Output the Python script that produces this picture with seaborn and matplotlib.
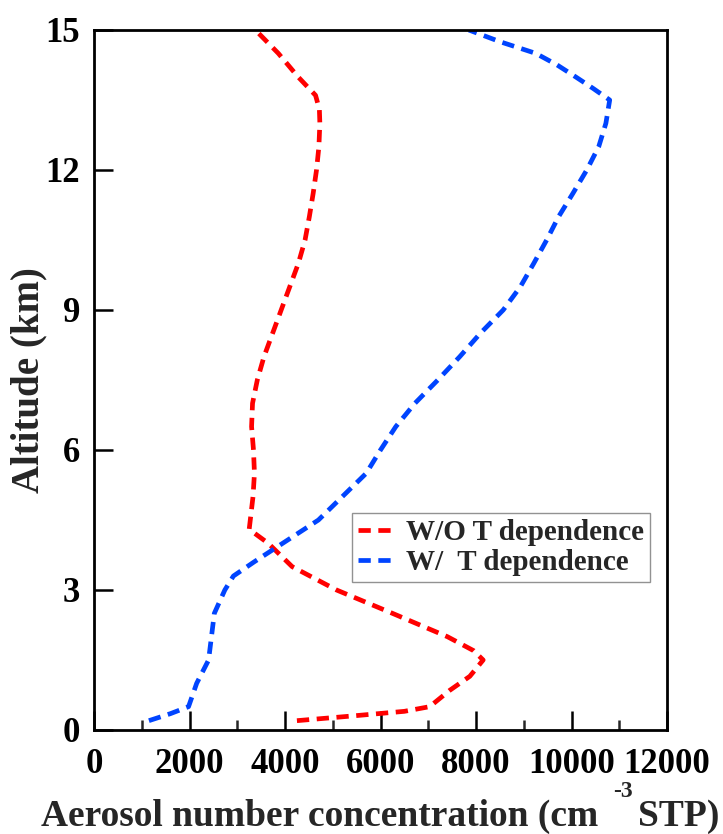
import numpy as np
import pandas as pd
import matplotlib
matplotlib.use("Agg")
import matplotlib.pyplot as plt
import seaborn as sns
from matplotlib.ticker import MultipleLocator

# ---- data ----
alt_wo = [0.2, 0.3, 0.4, 0.5, 0.85, 1.15, 1.5, 1.7, 2.0, 2.5, 3.0, 3.5, 4.0, 4.3,
          5.0, 5.5, 6.0, 6.5, 7.0, 7.5, 8.0, 8.5, 9.0, 9.5, 10.0, 10.5, 11.0,
          11.5, 12.0, 12.5, 13.0, 13.3, 13.6, 14.0, 14.5, 15.0]
conc_wo = [4250, 5400, 6500, 7030, 7450, 7870, 8150, 7950, 7400, 6250, 5080, 4150, 3650, 3250,
           3330, 3360, 3340, 3300, 3320, 3420, 3560, 3740, 3920, 4100, 4280, 4420, 4510,
           4590, 4660, 4710, 4730, 4720, 4640, 4270, 3860, 3380]

alt_w = [0.2, 0.35, 0.5, 1.0, 1.5, 2.0, 2.5, 3.0, 3.3, 3.6, 4.0, 4.5, 5.0, 5.5, 6.0,
         6.5, 7.0, 7.5, 8.0, 8.5, 9.0, 9.5, 10.0, 10.5, 11.0, 11.5, 12.0, 12.5, 13.0,
         13.5, 13.75, 14.0, 14.25, 14.5, 14.75, 15.0]
conc_w = [1150, 1600, 1980, 2150, 2400, 2460, 2520, 2740, 2920, 3350, 3950, 4700, 5200, 5700, 6000,
          6320, 6720, 7200, 7660, 8090, 8570, 8930, 9210, 9480, 9730, 10030, 10320, 10570, 10720,
          10800, 10450, 10080, 9700, 9250, 8500, 7850]

labels = ["W/O T dependence", "W/  T dependence"]
colors = ["#ff0000", "#0044ff"]

x_ticks = [0, 2000, 4000, 6000, 8000, 10000, 12000]
y_ticks = [0, 3, 6, 9, 12, 15]

df = pd.concat([
    pd.DataFrame({"conc": conc_wo, "alt": alt_wo, "case": labels[0]}),
    pd.DataFrame({"conc": conc_w, "alt": alt_w, "case": labels[1]}),
], ignore_index=True)

sns.set_style("ticks")
plt.rcParams["font.family"] = ["Liberation Serif", "DejaVu Serif"]
plt.rcParams["font.weight"] = "bold"

W, H = 723, 834
fig = plt.figure(figsize=(W / 100, H / 100), dpi=100)
ax = fig.add_axes([94 / W, (H - 730) / H, 573 / W, 700 / H])

for lab, col in zip(labels, colors):
    sub = df[df["case"] == lab]
    sns.lineplot(data=sub, x="conc", y="alt", sort=False, estimator=None,
                 color=col, lw=3.4, linestyle=(0, (2.6, 1.6)), label=lab, ax=ax)

ax.set_xlim(0, 12000)
ax.set_ylim(0, 15)
ax.set_xticks(x_ticks)
ax.set_xticklabels([str(v) for v in x_ticks])
ax.xaxis.set_minor_locator(MultipleLocator(1000))
ax.set_yticks(y_ticks)
ax.set_yticklabels([str(v) for v in y_ticks])

ax.tick_params(axis="both", which="major", direction="in", length=14, width=1.8,
               labelsize=25, colors="black")
ax.tick_params(axis="x", which="major", pad=13)
ax.tick_params(axis="y", which="major", pad=10)
ax.tick_params(axis="x", which="minor", direction="in", length=7, width=1.8)
for lbl in ax.get_xticklabels() + ax.get_yticklabels():
    lbl.set_fontweight("bold")

for sp in ax.spines.values():
    sp.set_linewidth(2.0)
    sp.set_color("black")
    sp.set_visible(True)

ax.set_xlabel("")
ax.set_ylabel("Altitude (km)", fontsize=28, fontweight="bold")
ax.yaxis.set_label_coords(-0.082, 0.5)

# x label built from pieces so the raised exponent matches the reference
fig.text(598 / W, (H - 826) / H, "Aerosol number concentration (cm", fontsize=27,
         fontweight="bold", ha="right", va="baseline")
fig.text(623 / W, (H - 797) / H, "-3", fontsize=17, fontweight="bold",
         ha="center", va="baseline")
fig.text(638 / W, (H - 826) / H, "STP)", fontsize=27, fontweight="bold",
         ha="left", va="baseline")

leg = ax.legend(loc="upper right", bbox_to_anchor=(0.970, 0.31), fontsize=21,
                frameon=True, fancybox=False, edgecolor="#777777",
                handlelength=1.3, handletextpad=0.35, borderpad=0.2,
                labelspacing=0.1, borderaxespad=0)
leg.get_frame().set_linewidth(1.0)
for t in leg.get_texts():
    t.set_fontweight("bold")

fig.savefig("out.png", dpi=100)
